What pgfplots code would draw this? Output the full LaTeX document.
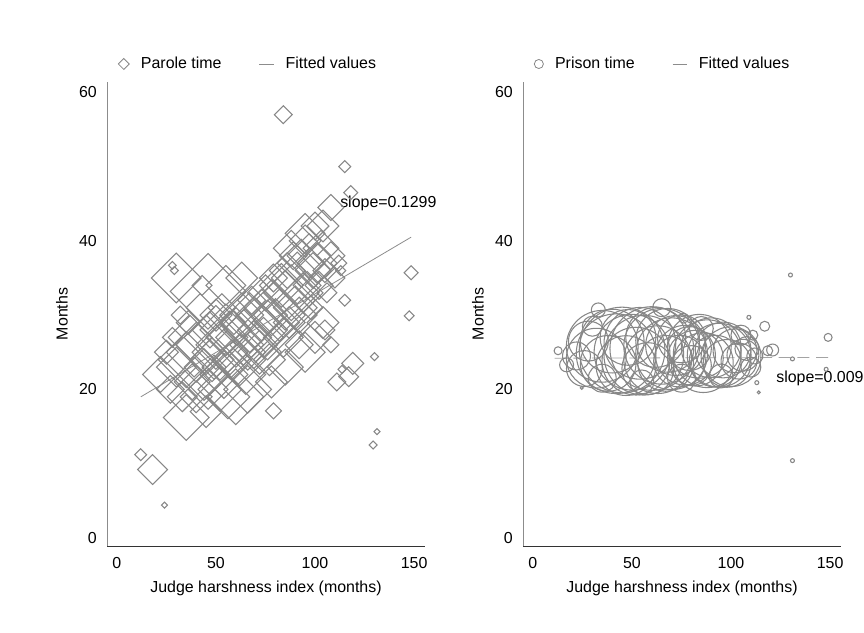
\documentclass[12pt,border=0pt]{standalone}
\usepackage{fontspec}
\setmainfont{Liberation Sans}
\usepackage{pgfplots}
\usepackage{pgfplotstable}
\pgfplotsset{compat=1.18}
\definecolor{mgray}{RGB}{135,135,135}
\definecolor{fitgray}{RGB}{140,140,140}
\definecolor{axgray}{RGB}{140,140,140}

% parole time: x, y, marker half-diagonal (px)
\pgfplotstableread{
x y s
84 57 9
115 50 6
118 46.5 7
108 44.5 13
104 42 16
148.5 35.7 7
147.5 29.9 5
130 24.4 4
131.3 14.3 3
129.3 12.5 4
18 9.2 15
12 11.2 6
24 4.4 3
119 23.5 11
111 21 9
117 21.7 10
113.6 22.7 4
79 17.1 8
35 16.2 23
30 35 25
46 33.2 38
28 36.7 4
29 36 4
22 22 18
25 25 12
27 20 14
30 23 20
28 27 10
32 30 9
33 19 15
35 24 28
37 27 22
38 21 18
40 25 30
36 29 12
40 19 16
42 31 14
39 23 10
44 22 26
45 26 30
47 28 18
48 24 22
46 20 20
50 27 32
49 23 12
50 30 16
43 34 10
52 25 28
54 22 24
55 28 26
57 26 34
53 31 14
58 24 20
56 19 22
59 29 12
60 27 30
62 24 26
63 30 22
64 27 28
65 22 20
66 25 18
67 29 30
68 32 14
69 26 24
60 19 28
70 28 32
72 25 22
73 30 26
74 27 20
75 33 18
76 28 30
77 24 16
78 31 28
79 35 14
80 29 24
82 30 26
83 34 22
84 27 20
85 32 30
86 36 18
87 29 16
88 33 28
89 38 14
90 31 22
91 35 26
92 30 18
93 37 24
94 33 20
95 40 16
96 34 14
97 38 22
98 31 12
99 36 18
100 42 14
101 37 20
102 34 14
103 39 18
105 36 12
106 33 10
108 38 14
110 35 10
112 37 8
115 32 6
113 36 5
100 27 16
105 28 10
92 26 14
108 26 8
85 23 18
95 25 20
78 21 16
104 29 16
95 41 20
88 39 18
66 20 24
52 20 22
45 17 16
55 34 20
63 35 16
}\parole

% prison time: x, y, circle radius (px)
\pgfplotstableread{
x y s
130 35.4 2
33 30.7 7
65 31 9
76 29.6 5
109 29.7 2
117 28.5 5
111 27.3 5
149 27 4
121 25.3 6
118.5 25.2 5
12.7 25.2 4
131 24.1 2
148 22.7 2
113 20.9 2
114 19.6 1.5
24.7 20.2 1.5
17 23.3 7
131 10.4 2
22 24.5 14
26 22.8 18
28 26.5 20
32 24.2 30
35 25.8 36
38 23.5 28
40 26.5 32
42 24.8 40
45 25.3 43
47 23.2 30
48 27.0 28
50 25.0 38
52 23.8 34
54 26.2 36
56 24.6 40
58 22.8 26
60 25.5 42
62 27.0 30
63 24.0 34
65 25.8 38
67 23.5 28
68 26.6 32
70 24.8 36
72 25.9 30
74 23.8 26
75 26.8 24
77 24.6 30
79 25.5 22
80 23.2 20
82 24.2 28
84 25.8 32
86 23.6 30
88 24.8 34
90 25.6 30
92 23.8 26
94 24.6 32
96 25.3 28
98 23.5 24
100 24.4 30
102 25.2 22
104 23.8 18
106 24.6 16
108 25.5 12
110 23.0 10
112 24.5 8
35 21.5 14
55 21.0 12
75 21.5 14
95 21.8 12
30 28.5 10
85 28.2 12
105 27.3 10
}\prison

\pgfplotsset{panel/.style={
  scale only axis, width=238.5bp, height=348bp,
  xmin=-5, xmax=155.5, ymin=-1.1, ymax=61.4,
  axis x line=bottom, axis y line=left,
  x axis line style={-, draw=black!80, line width=0.6pt},
  y axis line style={-, draw=axgray, line width=0.6pt},
  xtick={0,50,100,150}, ytick={0,20,40,60},
  major tick length=0pt,
  /pgf/number format/assume math mode=true,
  xticklabel style={yshift=-4.5bp},
  yticklabel style={xshift=-3.5bp},
  xlabel={Judge harshness index (months)},
  ylabel={Months},
  xlabel style={at={([yshift=-31.5bp]axis description cs:0.5,0)}, anchor=center},
  ylabel style={at={([xshift=-33.75bp]axis description cs:0,0.5)}, anchor=center},
  clip=false,
  legend columns=2, legend cell align=left,
  legend style={at={(rel axis cs:0,1)}, anchor=west, xshift=5bp, yshift=13.5bp,
    draw=none, fill=none,
    /tikz/every odd column/.append style={column sep=6.5bp},
    /tikz/every even column/.append style={column sep=26bp}},
  bubble/.style={scatter, only marks, forget plot,
    scatter/use mapped color={draw=mgray, fill=none},
    scatter/@pre marker code/.append style={/tikz/mark size=\ms}},
}}

\begin{document}
\begin{tikzpicture}
\useasboundingbox (0,0) rectangle (648bp,474.75bp);

\begin{axis}[panel, at={(80.25bp,65.25bp)}, anchor=south west]
\addlegendimage{legend image code/.code={\draw[mgray, line width=0.6pt] (0bp,0bp) -- (4.1bp,4.1bp) -- (8.2bp,0bp) -- (4.1bp,-4.1bp) -- cycle;}}
\addlegendentry{Parole time}
\addlegendimage{legend image code/.code={\draw[fitgray, line width=0.6pt] (0bp,0bp) -- (11bp,0bp);}}
\addlegendentry{Fitted values}
\addplot[bubble, mark=square,
  visualization depends on={0.53*\thisrow{s} \as \ms},
  mark options={rotate=45, line width=0.8pt}] table[x=x, y=y] {\parole};
\addplot[fitgray, line width=0.6pt, forget plot] coordinates {(12.1,19.0) (148.5,40.5)};
\node[anchor=west, inner sep=0pt] at (axis cs:112.6,45) {slope=0.1299};
\end{axis}

\begin{axis}[panel, at={(392.25bp,65.25bp)}, anchor=south west]
\addlegendimage{legend image code/.code={\draw[mgray, line width=0.6pt] (3.4bp,0bp) circle (3.4bp);}}
\addlegendentry{Prison time}
\addlegendimage{legend image code/.code={\draw[fitgray, line width=0.6pt] (0bp,0bp) -- (11bp,0bp);}}
\addlegendentry{Fitted values}
\addplot[bubble, mark=o,
  visualization depends on={0.75*\thisrow{s} \as \ms},
  mark options={line width=0.8pt}] table[x=x, y=y] {\prison};
\addplot[fitgray!80, line width=0.6pt, dash pattern=on 9bp off 5bp, forget plot] coordinates {(11,24.2) (149,24.3)};
\node[anchor=west, inner sep=0pt] at (axis cs:122.7,21.5) {slope=0.0096};
\end{axis}
\end{tikzpicture}
\end{document}
